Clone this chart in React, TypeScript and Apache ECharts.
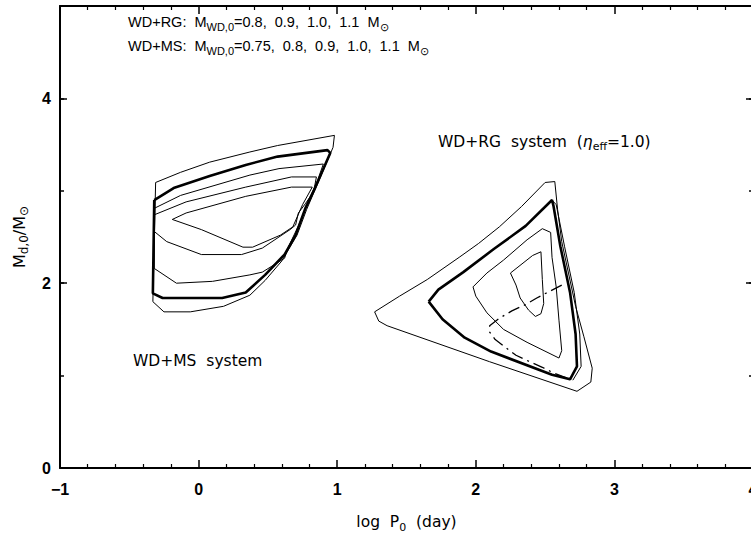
import React, { useEffect, useRef } from 'react';
import * as echarts from 'echarts';

// Axis ranges
const X_RANGE = [-1, 4];
const Y_RANGE = [0, 5];

// WD+MS contours (log P0 [day], M_d,0 [Msun])
const msOuter = [
  [-0.31, 3.09], [-0.13, 3.20], [0.08, 3.31], [0.37, 3.42], [0.57, 3.49], [0.98, 3.60],
  [0.97, 3.47], [0.86, 3.08], [0.78, 2.80], [0.71, 2.52], [0.60, 2.24], [0.48, 2.03],
  [0.37, 1.87], [0.18, 1.75], [-0.06, 1.69], [-0.25, 1.69], [-0.33, 1.80], [-0.31, 3.09],
];
const msThick = [
  [-0.32, 2.90], [-0.18, 3.03], [0.08, 3.16], [0.34, 3.28], [0.57, 3.37], [0.93, 3.44],
  [0.95, 3.41], [0.84, 3.03], [0.77, 2.81], [0.70, 2.52], [0.62, 2.31], [0.48, 2.09],
  [0.34, 1.90], [0.17, 1.84], [-0.26, 1.84], [-0.33, 1.89], [-0.32, 2.90],
];
const msMid = [
  [-0.32, 2.81], [-0.13, 2.95], [0.37, 3.17], [0.58, 3.24], [0.90, 3.29], [0.86, 3.12],
  [0.79, 2.88], [0.72, 2.62], [0.65, 2.40], [0.62, 2.27], [0.46, 2.12], [0.37, 2.09],
  [0.10, 2.02], [-0.16, 2.00], [-0.32, 2.16], [-0.32, 2.81],
];
const msInner1 = [
  [-0.32, 2.74], [-0.09, 2.88], [0.34, 3.04], [0.67, 3.15], [0.85, 3.15], [0.83, 2.99],
  [0.77, 2.86], [0.72, 2.76], [0.70, 2.63], [0.66, 2.58], [0.46, 2.38], [0.31, 2.31],
  [0.02, 2.31], [-0.23, 2.45], [-0.32, 2.56], [-0.32, 2.74],
];
const msInner2 = [
  [-0.19, 2.69], [-0.09, 2.76], [0.34, 2.94], [0.67, 3.04], [0.82, 3.04], [0.75, 2.85],
  [0.68, 2.61], [0.59, 2.52], [0.39, 2.39], [0.32, 2.39], [0.02, 2.58], [-0.19, 2.69],
];

// WD+RG contours
const rgOuter = [
  [1.27, 1.69], [1.30, 1.59], [1.36, 1.54], [2.10, 1.15], [2.73, 0.83], [2.83, 0.93],
  [2.84, 1.08], [2.78, 1.42], [2.72, 1.75], [2.67, 2.10], [2.62, 2.45], [2.59, 2.80],
  [2.57, 3.10], [2.50, 3.09], [2.33, 2.83], [2.17, 2.61], [2.02, 2.43], [1.88, 2.28],
  [1.65, 2.04], [1.45, 1.86], [1.27, 1.69],
];
const rgThick = [
  [1.66, 1.80], [1.73, 1.93], [1.91, 2.12], [2.13, 2.37], [2.36, 2.62], [2.55, 2.90],
  [2.56, 2.84], [2.61, 2.40], [2.68, 1.90], [2.72, 1.45], [2.73, 1.10], [2.68, 0.96],
  [2.55, 1.01], [2.11, 1.26], [1.92, 1.41], [1.76, 1.61], [1.66, 1.80],
];
const rgNear = [
  [2.55, 2.90], [2.58, 2.85], [2.64, 2.40], [2.71, 1.90], [2.75, 1.45], [2.76, 1.10], [2.70, 0.95],
];
const rgMid = [
  [1.98, 1.96], [2.00, 1.86], [2.08, 1.68], [2.20, 1.50], [2.37, 1.36], [2.60, 1.19],
  [2.62, 1.27], [2.60, 1.60], [2.58, 1.96], [2.55, 2.28], [2.54, 2.55], [2.48, 2.59],
  [2.37, 2.47], [2.20, 2.25], [2.08, 2.11], [1.98, 1.96],
];
const rgInner = [
  [2.25, 2.11], [2.41, 2.30], [2.47, 2.34], [2.48, 2.04], [2.49, 1.78], [2.47, 1.67],
  [2.43, 1.64], [2.38, 1.71], [2.32, 1.84], [2.29, 1.98], [2.25, 2.11],
];
const rgDashDot = [
  [2.62, 1.98], [2.53, 1.91], [2.44, 1.84], [2.36, 1.77], [2.26, 1.70], [2.17, 1.62],
  [2.10, 1.54], [2.10, 1.47], [2.14, 1.39], [2.21, 1.31], [2.29, 1.22], [2.39, 1.15],
  [2.48, 1.09], [2.56, 1.03], [2.68, 0.96],
];

const FONT = 'DejaVu Sans';
const TOP_FONT = 'Liberation Sans';
const AXIS_FONT = 'Liberation Sans';

function lineSeries(data: number[][], width: number, type: any = 'solid') {
  return {
    type: 'line',
    data,
    symbol: 'none',
    showSymbol: false,
    silent: true,
    smooth: false,
    lineStyle: { color: '#000', width, type },
  };
}

function textRich(family: string, size: number, sub: number) {
  return {
    n: { fontSize: size, fontFamily: family, fill: '#000', lineHeight: 20 },
    s: { fontSize: sub, fontFamily: family, fill: '#000', lineHeight: 9, verticalAlign: 'bottom' },
    g: { fontSize: size, fontFamily: family, fill: '#000', fontStyle: 'italic', lineHeight: 20 },
  };
}

export default function App() {
  const ref = useRef<HTMLDivElement>(null);
  useEffect(() => {
    if (!ref.current) return;
    const chart = echarts.init(ref.current, undefined, { renderer: 'svg' });
    const black = '#000';
    const xBase = {
      type: 'value',
      min: X_RANGE[0],
      max: X_RANGE[1],
      interval: 1,
      splitLine: { show: false },
      axisLine: { show: true, onZero: false, lineStyle: { color: black, width: 2 } },
      axisTick: { show: true, inside: true, length: 8, lineStyle: { color: black, width: 1.5 } },
      minorTick: { show: true, splitNumber: 5, length: 4, lineStyle: { color: black, width: 1.2 } },
    };
    const yBase = {
      type: 'value',
      min: Y_RANGE[0],
      max: Y_RANGE[1],
      splitLine: { show: false },
      axisLine: { show: true, onZero: false, lineStyle: { color: black, width: 2 } },
    };
    const option: any = {
      animation: false,
      backgroundColor: '#fff',
      grid: { left: 60, top: 6, width: 693, height: 462, outerBoundsMode: 'none', containLabel: false },
      xAxis: [
        {
          ...xBase,
          position: 'bottom',
          axisLabel: {
            color: black,
            fontSize: 16,
            fontWeight: 'bold',
            fontFamily: AXIS_FONT,
            margin: 13,
            formatter: (v: number) => (v < 0 ? '\u2212' + Math.abs(v) : String(v)),
          },
          name: '{n|log  P}{s|0}{n|  (day)}',
          nameLocation: 'middle',
          nameGap: 43,
          nameTextStyle: {
            rich: {
              n: { fontSize: 15.5, fontFamily: FONT, color: black, lineHeight: 22 },
              s: { fontSize: 11, fontFamily: FONT, color: black, lineHeight: 10, verticalAlign: 'bottom' },
            },
          },
        },
        { ...xBase, position: 'top', axisLabel: { show: false } },
      ],
      yAxis: [
        {
          ...yBase,
          position: 'left',
          interval: 1,
          axisTick: { show: true, inside: true, length: 4, lineStyle: { color: black, width: 1.5 } },
          axisLabel: {
            color: black,
            fontSize: 16,
            fontWeight: 'bold',
            fontFamily: AXIS_FONT,
            margin: 9,
            padding: [6, 0, 0, 0],
            formatter: (v: number) => (v % 2 === 0 && v < 5 ? String(v) : ''),
          },
          name: '{n|M}{s|d,0}{n|/M}{s|\u2299}',
          nameLocation: 'middle',
          nameRotate: 90,
          nameGap: 30,
          nameTextStyle: {
            rich: {
              n: { fontSize: 16, fontFamily: FONT, color: black, lineHeight: 22 },
              s: { fontSize: 12, fontFamily: FONT, color: black, lineHeight: 10, verticalAlign: 'bottom' },
            },
          },
        },
        {
          ...yBase,
          position: 'left',
          interval: 2,
          axisLine: { show: false, onZero: false },
          axisTick: { show: true, inside: true, length: 7, lineStyle: { color: black, width: 1.5 } },
          axisLabel: { show: false },
        },
        {
          ...yBase,
          position: 'right',
          interval: 1,
          axisTick: { show: true, inside: true, length: 4, lineStyle: { color: black, width: 1.5 } },
          axisLabel: { show: false },
        },
        {
          ...yBase,
          position: 'right',
          interval: 2,
          axisLine: { show: false, onZero: false },
          axisTick: { show: true, inside: true, length: 7, lineStyle: { color: black, width: 1.5 } },
          axisLabel: { show: false },
        },
      ],
      series: [
        lineSeries(msOuter, 1),
        lineSeries(msThick, 2.6),
        lineSeries(msMid, 1),
        lineSeries(msInner1, 1),
        lineSeries(msInner2, 1),
        lineSeries(rgOuter, 1),
        lineSeries(rgNear, 1),
        lineSeries(rgThick, 2.6),
        lineSeries(rgMid, 1),
        lineSeries(rgInner, 1),
        lineSeries(rgDashDot, 1.3, [12, 5, 2, 5]),
      ],
      graphic: [
        {
          type: 'text',
          x: 128,
          y: 22,
          silent: true,
          style: {
            text: '{n|WD+RG:  M}{s|WD,0}{n|=0.8,  0.9,  1.0,  1.1  M}{s|\u2299}',
            rich: textRich(TOP_FONT, 14.5, 11),
            align: 'left',
            verticalAlign: 'middle',
          },
        },
        {
          type: 'text',
          x: 128,
          y: 46,
          silent: true,
          style: {
            text: '{n|WD+MS:  M}{s|WD,0}{n|=0.75,  0.8,  0.9,  1.0,  1.1  M}{s|\u2299}',
            rich: textRich(TOP_FONT, 14.5, 11),
            align: 'left',
            verticalAlign: 'middle',
          },
        },
        {
          type: 'text',
          x: 438,
          y: 142,
          silent: true,
          style: {
            text: '{n|WD+RG  system  (}{g|\u03b7}{s|eff}{n|=1.0)}',
            rich: textRich(FONT, 15.5, 11),
            align: 'left',
            verticalAlign: 'middle',
          },
        },
        {
          type: 'text',
          x: 133,
          y: 361,
          silent: true,
          style: {
            text: '{n|WD+MS  system}',
            rich: textRich(FONT, 15.5, 11),
            align: 'left',
            verticalAlign: 'middle',
          },
        },
      ],
    };
    chart.setOption(option);
    return () => chart.dispose();
  }, []);
  return (
    <div
      ref={ref}
      style={{ position: 'fixed', left: 0, top: 0, width: 751, height: 534, background: '#fff' }}
    />
  );
}
